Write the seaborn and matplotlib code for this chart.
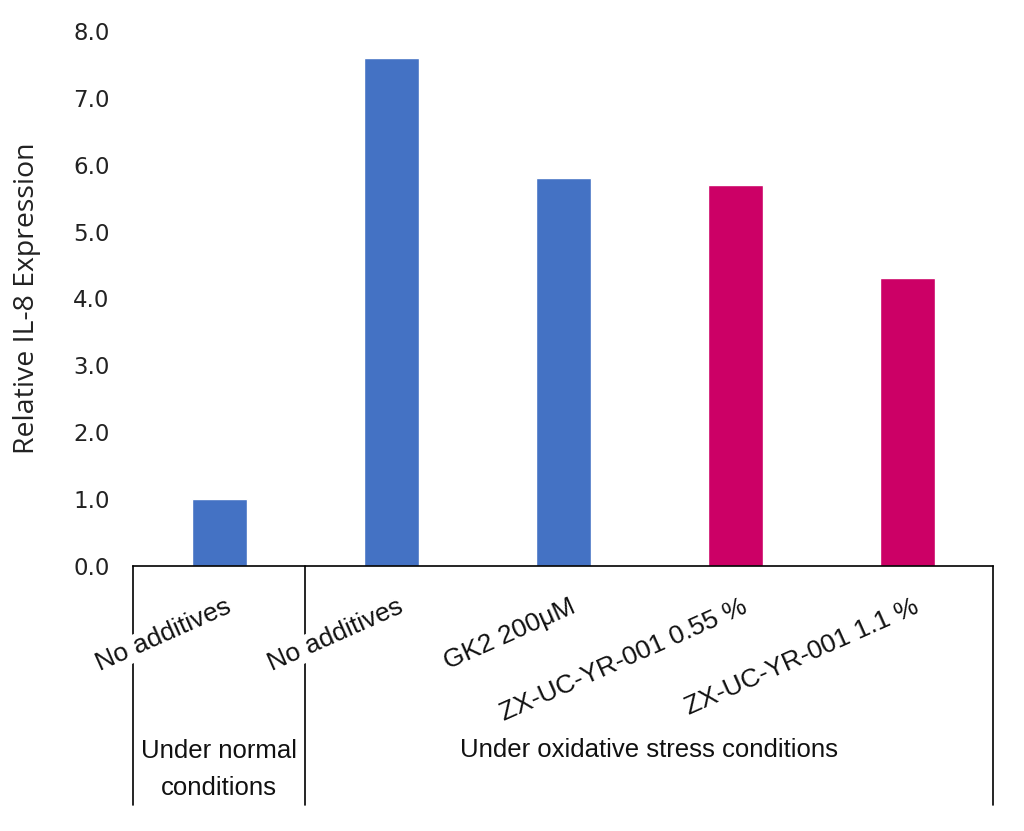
import pandas as pd
import matplotlib
matplotlib.use("Agg")
import matplotlib.pyplot as plt
import seaborn as sns
from matplotlib.ticker import FormatStrFormatter

conditions = ["No additives", "No additives", "GK2 200\u03bcM",
              "ZX-UC-YR-001 0.55 %", "ZX-UC-YR-001 1.1 %"]
values = [1.0, 7.6, 5.8, 5.7, 4.3]
bar_colors = ["#4472C4", "#4472C4", "#4472C4", "#CC0066", "#CC0066"]
groups = ["Under normal\nconditions", "Under oxidative stress conditions"]

df = pd.DataFrame({"key": [str(i) for i in range(len(values))],
                   "value": values})

sns.set_style("white")
plt.rcParams["font.family"] = ["DejaVu Sans"]
label_font = ["Liberation Sans", "DejaVu Sans"]

fig = plt.figure(figsize=(10.24, 8.31), dpi=100)
ax = fig.add_axes([0.13, 0.3189, 0.8398, 0.6438])

sns.barplot(data=df, x="key", y="value", hue="key",
            palette=dict(zip(df["key"], bar_colors)),
            width=0.32, legend=False, saturation=1, ax=ax)

ax.set_xlim(-0.5, 4.5)
ax.set_ylim(0, 8)
ax.set_yticks(range(9))
ax.yaxis.set_major_formatter(FormatStrFormatter("%.1f"))
ax.tick_params(axis="y", length=0, pad=17, labelsize=16.5, colors="#222222",
               labelfontfamily="DejaVu Sans")
ax.set_xticks([])
ax.set_xlabel("")
ax.set_ylabel("Relative IL-8 Expression", fontsize=20.5, color="#222222",
              family=["Open Sans", "DejaVu Sans"])
ax.yaxis.set_label_coords(-0.107, 0.5)

for s in ["left", "top", "right"]:
    ax.spines[s].set_visible(False)
ax.spines["bottom"].set_color("black")
ax.spines["bottom"].set_linewidth(1.2)

trans = ax.get_xaxis_transform()
# group separator lines
for xb in [-0.5, 0.5, 4.5]:
    ax.plot([xb, xb], [0, -0.447], transform=trans, color="black",
            lw=1.2, clip_on=False, zorder=1)

for i, lab in enumerate(conditions):
    ax.text(i + 0.09, -0.054, lab, transform=trans, rotation=24,
            ha="right", va="top", fontsize=19, color="#111111",
            family=label_font,
            bbox=dict(facecolor="white", edgecolor="none", pad=1),
            zorder=3)

ax.text(0, -0.381, groups[0], transform=trans, ha="center", va="center",
        fontsize=18.5, linespacing=1.7, color="#111111", family=label_font)
ax.text(2.5, -0.344, groups[1], transform=trans, ha="center", va="center",
        fontsize=18.5, color="#111111", family=label_font)

fig.savefig("out.png", dpi=100)
